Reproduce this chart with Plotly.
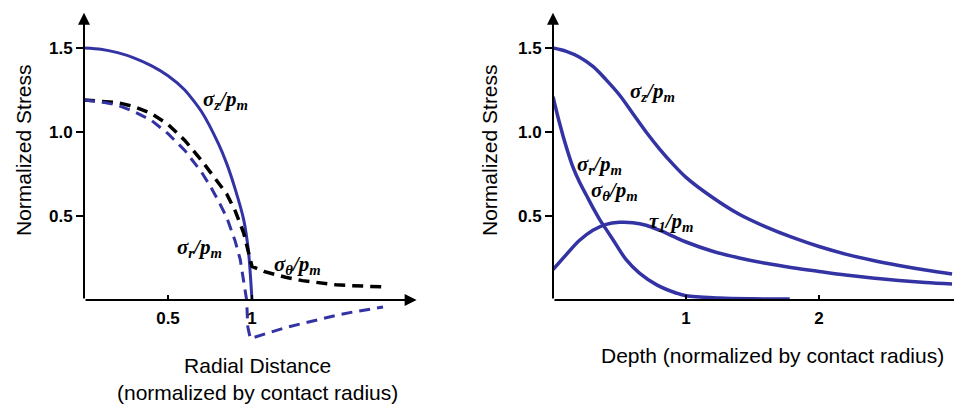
import plotly.graph_objects as go

# ---------------- data ----------------
# Left panel: surface stresses vs radial distance
r_sz = [0, 0.1, 0.2, 0.3, 0.4, 0.5, 0.6, 0.7, 0.8, 0.85, 0.9, 0.95, 0.98, 1.0]
sz_surface = [1.5, 1.493, 1.472, 1.44, 1.395, 1.335, 1.25, 1.12, 0.93, 0.81, 0.66, 0.48, 0.28, 0.0]

r_st = [0, 0.1, 0.2, 0.3, 0.4, 0.5, 0.6, 0.7, 0.8, 0.85, 0.9, 0.95, 0.98, 1.0,
        1.07, 1.2, 1.3, 1.4, 1.5, 1.6, 1.7, 1.79]
st_surface = [1.19, 1.185, 1.175, 1.15, 1.11, 1.045, 0.95, 0.83, 0.70, 0.63, 0.53, 0.40, 0.28, 0.20,
              0.17, 0.135, 0.115, 0.10, 0.09, 0.085, 0.08, 0.077]

r_sr = [0, 0.1, 0.2, 0.3, 0.4, 0.5, 0.6, 0.7, 0.75, 0.8, 0.85, 0.9, 0.93, 0.95, 0.968,
        0.975, 0.99, 1.1, 1.2, 1.3, 1.4, 1.5, 1.6, 1.7, 1.78]
sr_surface = [1.19, 1.18, 1.16, 1.12, 1.07, 0.99, 0.89, 0.76, 0.68, 0.59, 0.49, 0.35, 0.24, 0.12, 0.0,
              -0.16, -0.23, -0.195, -0.165, -0.14, -0.115, -0.092, -0.072, -0.055, -0.042]

# Right panel: stresses vs depth
z_sz = [0, 0.1, 0.2, 0.3, 0.4, 0.5, 0.6, 0.7, 0.8, 0.9, 1.0, 1.2, 1.4, 1.6, 1.8, 2.0,
        2.2, 2.4, 2.6, 2.8, 3.0]
sz_depth = [1.50, 1.48, 1.445, 1.39, 1.31, 1.22, 1.11, 1.00, 0.90, 0.81, 0.73, 0.61, 0.51,
            0.435, 0.372, 0.318, 0.273, 0.236, 0.205, 0.178, 0.155]

z_tau = [0, 0.1, 0.2, 0.3, 0.4, 0.5, 0.6, 0.7, 0.8, 0.9, 1.0, 1.2, 1.4, 1.6, 1.8, 2.0,
         2.2, 2.4, 2.6, 2.8, 3.0]
tau_depth = [0.18, 0.27, 0.355, 0.415, 0.45, 0.462, 0.46, 0.445, 0.415, 0.38, 0.345, 0.29,
             0.25, 0.218, 0.192, 0.17, 0.149, 0.131, 0.116, 0.104, 0.095]

z_sr = [0, 0.05, 0.1, 0.15, 0.2, 0.25, 0.3, 0.35, 0.4, 0.45, 0.55, 0.65, 0.78, 0.93, 1.0,
        1.25, 1.5, 1.78]
sr_depth = [1.21, 1.05, 0.91, 0.79, 0.70, 0.625, 0.55, 0.48, 0.42, 0.36, 0.24, 0.16, 0.09,
            0.04, 0.025, 0.012, 0.007, 0.005]

y_tickvals = [0.5, 1.0, 1.5]
y_ticktext = ["0.5", "1.0", "1.5"]
x1_tickvals = [0.5, 1]
x1_ticktext = ["0.5", "1"]
x2_tickvals = [1, 2]
x2_ticktext = ["1", "2"]

# ---------------- styling ----------------
BLUE = "#3333a4"
OFF = 8                      # page body margin of the browser
W, H = 962 - OFF, 408 - OFF
Y_RANGE = [-0.28, 1.72]
X1_RANGE = [0, 2.0]
X2_RANGE = [0, 3.075]
zero_pos = (0 - Y_RANGE[0]) / (Y_RANGE[1] - Y_RANGE[0])

fig = go.Figure()

fig.add_trace(go.Scatter(x=r_sz, y=sz_surface, mode="lines", xaxis="x", yaxis="y",
                         line=dict(color=BLUE, width=3, shape="spline", smoothing=0.6),
                         showlegend=False))
fig.add_trace(go.Scatter(x=r_st, y=st_surface, mode="lines", xaxis="x", yaxis="y",
                         line=dict(color="black", width=3.5, dash="11px,7px"),
                         showlegend=False))
fig.add_trace(go.Scatter(x=r_sr, y=sr_surface, mode="lines", xaxis="x", yaxis="y",
                         line=dict(color=BLUE, width=3, dash="11px,7px"),
                         showlegend=False))

for zx, yy in [(z_sz, sz_depth), (z_tau, tau_depth), (z_sr, sr_depth)]:
    fig.add_trace(go.Scatter(x=zx, y=yy, mode="lines", xaxis="x2", yaxis="y2",
                             line=dict(color=BLUE, width=3.5, shape="spline", smoothing=1.0),
                             showlegend=False))

tickfont = dict(family="Liberation Sans, Arial, sans-serif", size=17, color="black",
                weight="bold")
common_x = dict(showgrid=False, zeroline=False, showline=False, ticks="inside", ticklen=5,
                tickwidth=2, tickcolor="black", tickfont=tickfont, anchor="free",
                position=zero_pos, ticklabelstandoff=6, fixedrange=True)
common_y = dict(showgrid=False, zeroline=False, showline=False, ticks="outside", ticklen=7,
                tickwidth=2, tickcolor="black", tickfont=tickfont, range=Y_RANGE,
                tickvals=y_tickvals, ticktext=y_ticktext, domain=[0, 1], fixedrange=True)

fig.update_layout(
    width=W, height=H,
    margin=dict(l=0, r=0, t=11 - OFF, b=61),
    paper_bgcolor="white", plot_bgcolor="white",
    font=dict(family="Liberation Sans, Arial, sans-serif", color="black"),
    xaxis=dict(domain=[(84 - OFF) / W, (420 - OFF) / W], range=X1_RANGE, tickvals=x1_tickvals,
               ticktext=x1_ticktext, **common_x),
    yaxis=dict(anchor="x", **common_y),
    xaxis2=dict(domain=[(553 - OFF) / W, 1.0], range=X2_RANGE, tickvals=x2_tickvals,
                ticktext=x2_ticktext, **common_x),
    yaxis2=dict(anchor="x2", **common_y),
)

ann = []
def axis_line(xref, yref, x, y, head=2):
    return dict(xref=xref, yref=yref, axref=xref, ayref=yref, x=x, y=y, ax=0, ay=0,
                text="", showarrow=True, arrowhead=head, arrowsize=1.2, arrowwidth=2,
                arrowcolor="black", standoff=0, startstandoff=0)

ann.append(axis_line("x", "y", 0, 1.71))
ann.append(axis_line("x", "y", 1.98, 0))
ann.append(axis_line("x2", "y2", 0, 1.71))
ann.append(axis_line("x2", "y2", 3.075, 0, head=0))

lab_font = dict(family="Liberation Serif, Times New Roman, serif", size=21, color="black")
def lab(xref, yref, x, y, txt):
    return dict(xref=xref, yref=yref, x=x, y=y, text="<b><i>" + txt + "</i></b>",
                showarrow=False, font=lab_font, xanchor="center", yanchor="middle")

ann += [
    lab("x", "y", 0.84, 1.19, "σ<sub>z</sub>/p<sub>m</sub>"),
    lab("x", "y", 0.69, 0.31, "σ<sub>r</sub>/p<sub>m</sub>"),
    lab("x", "y", 1.27, 0.21, "σ<sub>θ</sub>/p<sub>m</sub>"),
    lab("x2", "y2", 0.75, 1.24, "σ<sub>z</sub>/p<sub>m</sub>"),
    lab("x2", "y2", 0.35, 0.805, "σ<sub>r</sub>/p<sub>m</sub>"),
    lab("x2", "y2", 0.46, 0.65, "σ<sub>θ</sub>/p<sub>m</sub>"),
    lab("x2", "y2", 0.89, 0.465, "τ<sub>1</sub>/p<sub>m</sub>"),
]

title_font = dict(family="Liberation Sans, Arial, sans-serif", size=21, color="black")
def ptitle(px, py, txt, angle=0):
    return dict(xref="paper", yref="paper", x=(px - OFF) / W, y=(347 - py) / 336, text=txt,
                showarrow=False, font=title_font, textangle=angle,
                xanchor="center", yanchor="middle")

ann += [
    ptitle(23, 150, "Normalized Stress", -90),
    ptitle(489, 150, "Normalized Stress", -90),
    ptitle(257, 379, "Radial Distance<br>(normalized by contact radius)"),
    ptitle(772, 356, "Depth (normalized by contact radius)"),
]

fig.update_layout(annotations=ann)
fig.write_html("out.html")
